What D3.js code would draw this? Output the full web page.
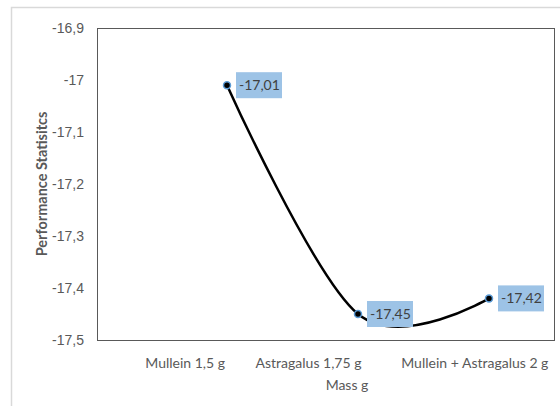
<!DOCTYPE html>
<html>
<head>
<meta charset="utf-8">
<script src="https://cdn.jsdelivr.net/npm/d3@7"></script>
<style>
  html, body { margin: 0; padding: 0; background: #fff; }
  svg { display: block; font-family: Lato, "Open Sans", sans-serif; }
</style>
</head>
<body>
<svg id="chart" width="560" height="406"></svg>
<script>
// Series data
const categories = ["Mullein 1,5 g", "Astragalus 1,75 g", "Mullein + Astragalus 2 g"];
const values = [-17.01, -17.45, -17.42];
const valueLabels = ["-17,01", "-17,45", "-17,42"];
const yTicks = [-16.9, -17, -17.1, -17.2, -17.3, -17.4, -17.5];
const yTickLabels = ["-16,9", "-17", "-17,1", "-17,2", "-17,3", "-17,4", "-17,5"];
const xTitle = "Mass g";
const yTitle = "Performance Statisitcs";

const svg = d3.select("#chart");
const W = 560, H = 406;
const plot = { left: 97, top: 28, right: 554, bottom: 340 };
const FS = 14;

// Outer chart frame
svg.append("rect")
  .attr("x", 11.5).attr("y", 7.5)
  .attr("width", W + 10).attr("height", H + 10)
  .attr("fill", "#fff").attr("stroke", "#d9d9d9").attr("stroke-width", 1.5);

const y = d3.scaleLinear().domain([-17.5, -16.9]).range([plot.bottom, plot.top]);
const x = d3.scalePoint().domain(categories).range([plot.left + 130, plot.right - 65]);
// Category label placement across the plot width
const xLab = d3.scaleBand().domain(categories).range([plot.left, plot.right]);
const labelNudge = [12, -17, -3];

// Y axis
const yAxis = d3.axisLeft(y)
  .tickValues(yTicks)
  .tickSize(0)
  .tickPadding(13)
  .tickFormat((d, i) => yTickLabels[i]);
const gy = svg.append("g").attr("transform", `translate(${plot.left},0)`).call(yAxis);
gy.select(".domain").remove();
gy.selectAll("text").attr("fill", "#595959").attr("font-size", FS).attr("font-family", null);

// Plot frame
svg.append("rect")
  .attr("x", plot.left + 0.5).attr("y", plot.top + 0.5)
  .attr("width", plot.right - plot.left).attr("height", plot.bottom - plot.top)
  .attr("fill", "none").attr("stroke", "#595959").attr("stroke-width", 1);

// Category labels
svg.append("g").selectAll("text").data(categories).join("text")
  .attr("x", (d, i) => xLab(d) + xLab.bandwidth() / 2 + labelNudge[i])
  .attr("y", 368)
  .attr("text-anchor", "middle")
  .attr("fill", "#595959").attr("font-size", FS)
  .text(d => d);

// Axis titles
svg.append("text")
  .attr("x", 347).attr("y", 390)
  .attr("text-anchor", "middle")
  .attr("fill", "#595959").attr("font-size", FS)
  .text(xTitle);

svg.append("text")
  .attr("transform", `translate(47,${(plot.top + plot.bottom) / 2}) rotate(-90)`)
  .attr("text-anchor", "middle")
  .attr("fill", "#595959").attr("font-size", 14.5).attr("font-weight", "bold")
  .text(yTitle);

// Smoothed line
const pts = categories.map((c, i) => [x(c), y(values[i])]);
svg.append("path")
  .attr("d", d3.line().curve(d3.curveCatmullRom.alpha(0))(pts))
  .attr("fill", "none").attr("stroke", "#000").attr("stroke-width", 2.5);

// Markers
svg.append("g").selectAll("circle").data(pts).join("circle")
  .attr("cx", d => d[0]).attr("cy", d => d[1]).attr("r", 3.5)
  .attr("fill", "#000").attr("stroke", "#5b9bd5").attr("stroke-width", 1.5);

// Value labels
const lab = svg.append("g").selectAll("g").data(pts).join("g")
  .attr("transform", d => `translate(${d[0] + 9},${d[1] - 13})`);
lab.append("rect").attr("width", 46).attr("height", 26).attr("fill", "#9dc3e6");
lab.append("text")
  .attr("x", 3).attr("y", 18)
  .attr("fill", "#404040").attr("font-size", FS)
  .text((d, i) => valueLabels[i]);
</script>
</body>
</html>
